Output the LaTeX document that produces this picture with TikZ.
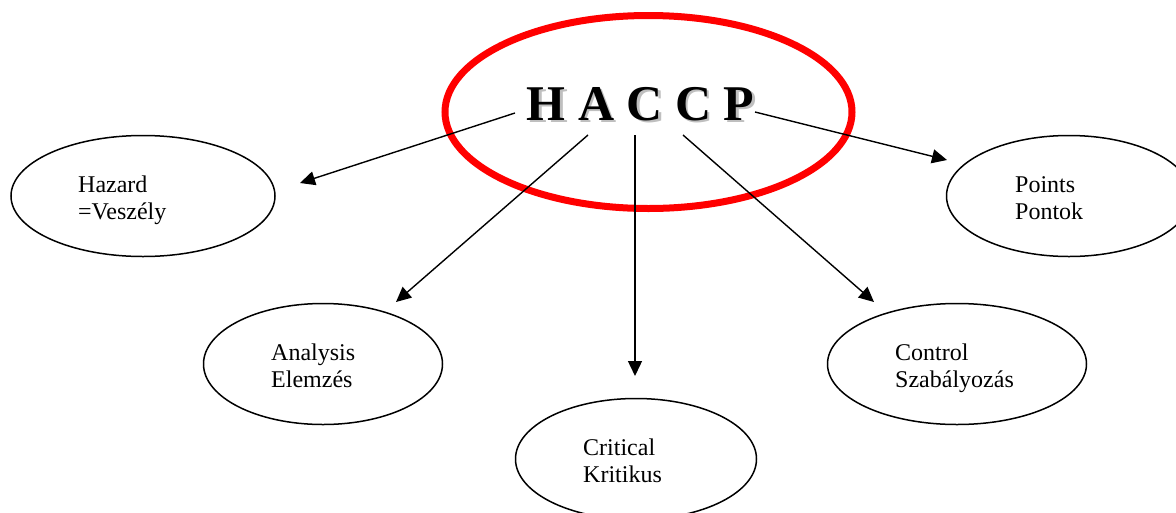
\documentclass[tikz,border=0pt]{standalone}
\usepackage{fontspec}
\setmainfont{Liberation Serif}
\usetikzlibrary{arrows.meta, shapes.geometric, positioning}

\begin{document}
\begin{tikzpicture}[x=1pt, y=-1pt,
    oval/.style={draw, ellipse, line width=1.5pt, inner sep=0pt},
    word/.style={anchor=base west, align=left, inner sep=0pt, font=\fontsize{24}{26.5}\selectfont},
    title/.style={anchor=base west, inner sep=0pt, font=\bfseries\fontsize{50}{50}\selectfont},
    arrow/.style={line width=1.4pt, -{Triangle[length=15pt, width=14pt]}}]
    \useasboundingbox (0,0) rectangle (1176,512);

    \node[draw=red, ellipse, line width=7pt, minimum width=407, minimum height=193] (ring) at (648.5,112) {};
    \node[title, gray!50] (shadow) at (529,122.5) {H A C C P};
    \node[title] (haccp) at (526.5,120) {H A C C P};

    \node[oval, minimum width=264, minimum height=121] (hazard) at (143,196) {};
    \node[oval, minimum width=239, minimum height=121] (analysis) at (323,364) {};
    \node[oval, minimum width=241, minimum height=121] (critical) at (636,459) {};
    \node[oval, minimum width=259, minimum height=121] (control) at (957,364) {};
    \node[oval, minimum width=245, minimum height=121] (points) at (1069,196) {};

    \node[word] (hazardtext) at (78,219) {Hazard\\=Veszély};
    \node[word] (analysistext) at (271,387) {Analysis\\Elemzés};
    \node[word] (criticaltext) at (583,482) {Critical\\Kritikus};
    \node[word] (controltext) at (895,387) {Control\\Szabályozás};
    \node[word] (pointstext) at (1015,219) {Points\\Pontok};

    \coordinate (fromH) at (515,113);
    \coordinate (fromA) at (588,135);
    \coordinate (fromC) at (635,135);
    \coordinate (fromCC) at (683,135);
    \coordinate (fromP) at (755,112);
    \coordinate (toHazard) at (300,183);
    \coordinate (toAnalysis) at (396,302);
    \coordinate (toCritical) at (635,376);
    \coordinate (toControl) at (874,302);
    \coordinate (toPoints) at (947,160);

    \draw[arrow] (fromH) -- (toHazard);
    \draw[arrow] (fromA) -- (toAnalysis);
    \draw[arrow] (fromC) -- (toCritical);
    \draw[arrow] (fromCC) -- (toControl);
    \draw[arrow] (fromP) -- (toPoints);
\end{tikzpicture}
\end{document}
